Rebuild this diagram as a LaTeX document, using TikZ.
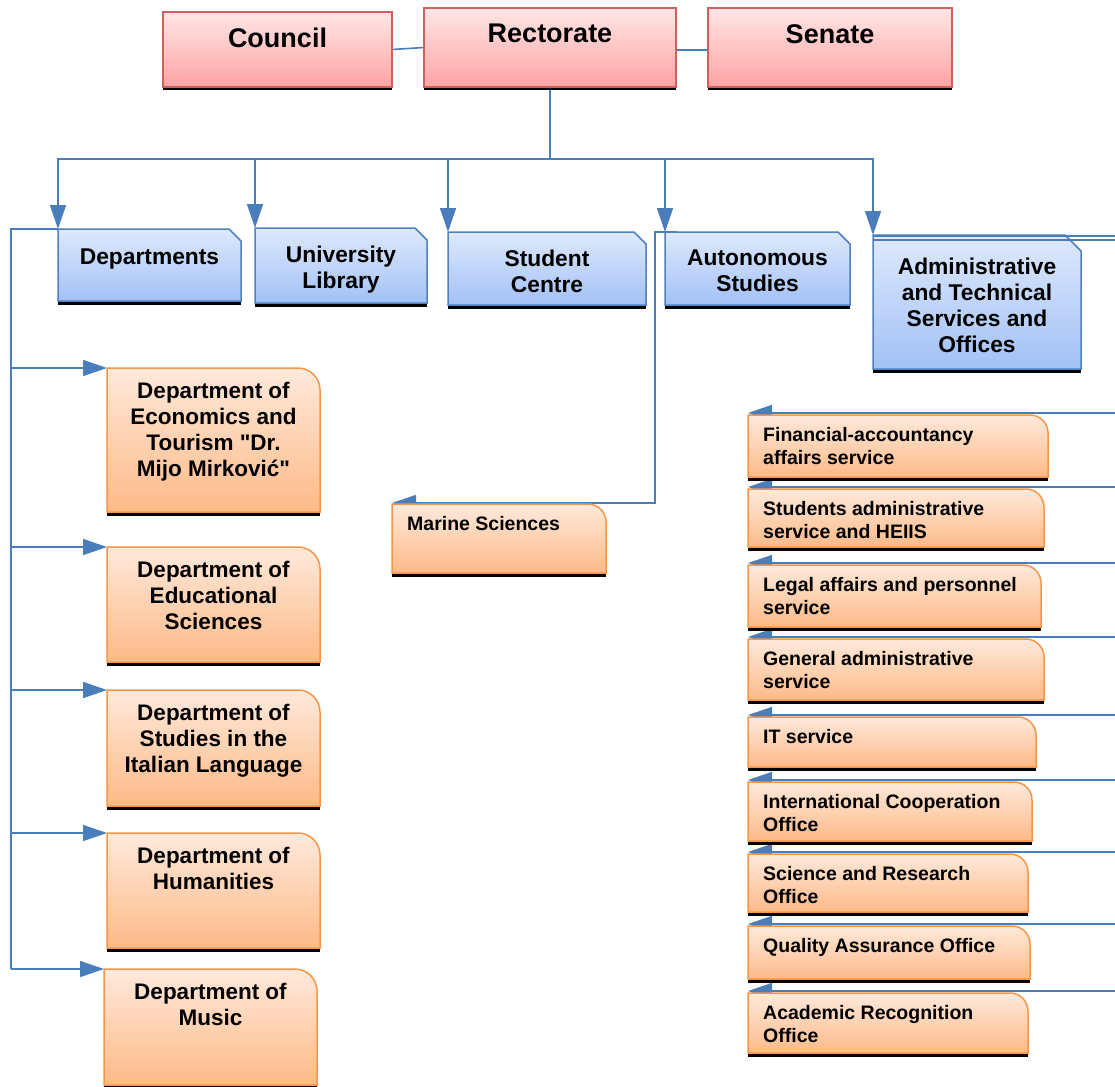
\documentclass[tikz,border=0pt]{standalone}
\usepackage{fontspec}
\setmainfont{Liberation Sans}[Ligatures=TeXOff]
\usetikzlibrary{arrows.meta,fit}
\definecolor{connc}{HTML}{4A7EBB}
\definecolor{redb}{HTML}{D0605E}
\definecolor{redtop}{HTML}{FFE6E6}
\definecolor{redbot}{HTML}{FFA3A3}
\definecolor{blueb}{HTML}{4F81BD}
\definecolor{bluetop}{HTML}{DEE9FC}
\definecolor{bluebot}{HTML}{A2C1F6}
\definecolor{orb}{HTML}{F79646}
\definecolor{ortop}{HTML}{FFE9DB}
\definecolor{orbot}{HTML}{FDBA88}
\pgfdeclarelayer{back}
\pgfdeclarelayer{bg}
\pgfsetlayers{back,bg,main}
\tikzset{
  conn/.style={draw=connc, line width=1.6pt},
  arr/.style={conn, -{Triangle[length=24pt,width=16pt]}},
  frame/.style={inner sep=0pt, outer sep=0pt},
  shadowbar/.style={line width=3pt, black},
  redfill/.style={draw=redb, line width=1.5pt, top color=redtop, bottom color=redbot},
  bluefill/.style={draw=blueb, line width=1.5pt, top color=bluetop, bottom color=bluebot},
  orfill/.style={draw=orb, line width=1.5pt, top color=ortop, bottom color=orbot},
  toptxt/.style={inner sep=0pt, font=\bfseries\fontsize{27}{30}\selectfont, align=center},
  bluetxt/.style={inner sep=0pt, font=\bfseries\fontsize{22.8}{26}\selectfont, align=center},
  depttxt/.style={inner sep=0pt, font=\bfseries\fontsize{22.5}{26}\selectfont, align=center},
  offtxt/.style={inner sep=0pt, font=\bfseries\fontsize{19.5}{23.5}\selectfont, align=left},
}
\newcommand\mkframe[5]{\node[frame,fit={(#2,#3)(#4,#5)}] (#1) {};}
\newcommand\redbox[6]{\mkframe{#1}{#2}{#3}{#4}{#5}
  \draw[shadowbar] ([yshift=-2pt]#1.south west) -- ([yshift=-2pt]#1.south east);
  \path[redfill] (#1.north west) rectangle (#1.south east);
  \node[toptxt,anchor=north] at ([yshift=-16pt]#1.north) {#6};}
\newcommand\bluebox[8]{\mkframe{#1}{#2}{#3}{#4}{#5}
  \draw[shadowbar] ([yshift=-2pt]#1.south west) -- ([yshift=-2pt]#1.south east);
  \path[bluefill] (#1.north west) -- ([xshift=-#6pt]#1.north east) -- ([yshift=-#6pt]#1.north east) -- (#1.south east) -- (#1.south west) -- cycle;
  \node[bluetxt,anchor=north] at ([yshift=-#7pt]#1.north) {#8};}
\newcommand\deptbox[6]{\mkframe{#1}{#2}{#3}{#4}{#5}
  \draw[shadowbar] ([yshift=-2pt]#1.south west) -- ([yshift=-2pt]#1.south east);
  \path[orfill] (#1.north west) -- ([xshift=-22pt]#1.north east) arc[start angle=90,end angle=0,radius=22pt] -- (#1.south east) -- (#1.south west) -- cycle;
  \node[depttxt,anchor=north] at ([yshift=-14pt]#1.north) {#6};}
\newcommand\offbox[6]{\mkframe{#1}{#2}{#3}{#4}{#5}
  \draw[shadowbar] ([yshift=-2pt]#1.south west) -- ([yshift=-2pt]#1.south east);
  \path[orfill] (#1.north west) -- ([xshift=-18pt]#1.north east) arc[start angle=90,end angle=0,radius=18pt] -- (#1.south east) -- (#1.south west) -- cycle;
  \node[offtxt,anchor=north west] at ([xshift=15pt,yshift=-12pt]#1.north west) {#6};}
\begin{document}
\begin{tikzpicture}[x=1pt,y=-1pt]
\begin{pgfonlayer}{back}
\fill[white] (0,0) rectangle (1115,1086);
\end{pgfonlayer}
\useasboundingbox (0,0) rectangle (1115,1086);
\coordinate (re) at (1115,0);

% top row
\redbox{Council}{163}{12}{392}{87}{Council}
\redbox{Rectorate}{424}{8}{676}{87}{Rectorate}
\redbox{Senate}{708}{8}{952}{87}{Senate}

% blue row
\bluebox{Departments}{58}{229}{241}{301}{12}{20}{Departments}
\bluebox{Library}{255}{228}{427}{303}{12}{18}{University\\Library}
\bluebox{Student}{448}{232}{646}{305}{12}{18}{Student\\Centre}
\bluebox{Autonomous}{665}{232}{850}{305}{12}{18}{Autonomous\\Studies}
\bluebox{Admin}{873}{235}{1081}{369}{16}{23}{Administrative\\and Technical\\Services and\\Offices}

% departments
\deptbox{Econ}{107}{368}{320}{512}{Department of\\Economics and\\Tourism "Dr.\\Mijo Mirković"}
\deptbox{Educ}{107}{547}{320}{662}{Department of\\Educational\\Sciences}
\deptbox{Ital}{107}{690}{320}{806}{Department of\\Studies in the\\Italian Language}
\deptbox{Hum}{107}{833}{320}{948}{Department of\\Humanities}
\deptbox{Music}{104}{969}{317}{1085}{Department of\\Music}

% marine
\offbox{Marine}{392}{504}{606}{573}{Marine Sciences}

% offices
\offbox{Fin}{748}{415}{1048}{477}{Financial-accountancy\\affairs service}
\offbox{Stud}{748}{489}{1044}{547}{Students administrative\\service and HEIIS}
\offbox{Legal}{748}{565}{1041}{627}{Legal affairs and personnel\\service}
\offbox{Gen}{748}{639}{1044}{700}{General administrative\\service}
\offbox{IT}{748}{717}{1036}{767}{IT service}
\offbox{Intl}{748}{782}{1032}{841}{International Cooperation\\Office}
\offbox{Sci}{748}{854}{1028}{912}{Science and Research\\Office}
\offbox{Qual}{748}{926}{1030}{979}{Quality Assurance Office}
\offbox{Acad}{748}{993}{1028}{1053}{Academic Recognition\\Office}

\begin{pgfonlayer}{bg}
\draw[conn] (Council.east) -- (Rectorate.west);
\draw[conn, line width=2pt] ([yshift=-2.5pt]Rectorate.east) -- ([yshift=-2.5pt]Senate.west);
\coordinate (hub) at (550,159);
\draw[conn] (Rectorate.south) -- (hub);
\foreach \n in {Departments,Library,Student,Autonomous,Admin}
  \draw[arr] (hub) -| (\n.north west);
\coordinate (dl) at (11,229);
\draw[conn] (Departments.north west) -- (dl) -- (dl |- Music.north west);
\foreach \n in {Econ,Educ,Ital,Hum,Music}
  \draw[arr] (dl |- \n.north west) -- (\n.north west);
\coordinate (al) at (655,232);
\draw[arr] ([xshift=12pt]Autonomous.north west) -- (al) |- ([yshift=1pt]Marine.north west);
\foreach \n in {Fin,Stud,Legal,Gen,IT,Intl,Sci,Qual,Acad}
  \draw[arr] (re |- \n.north west) ++(0,-2) coordinate (tmp) -- (tmp -| \n.north west);
\end{pgfonlayer}
\draw[conn, line width=2pt] (Admin.north west) ++(0,1) coordinate (tmp2) -- (tmp2 -| re);
\draw[conn, line width=2pt] (Admin.north west) ++(0,5) coordinate (tmp3) -- (tmp3 -| re);
\end{tikzpicture}
\end{document}
